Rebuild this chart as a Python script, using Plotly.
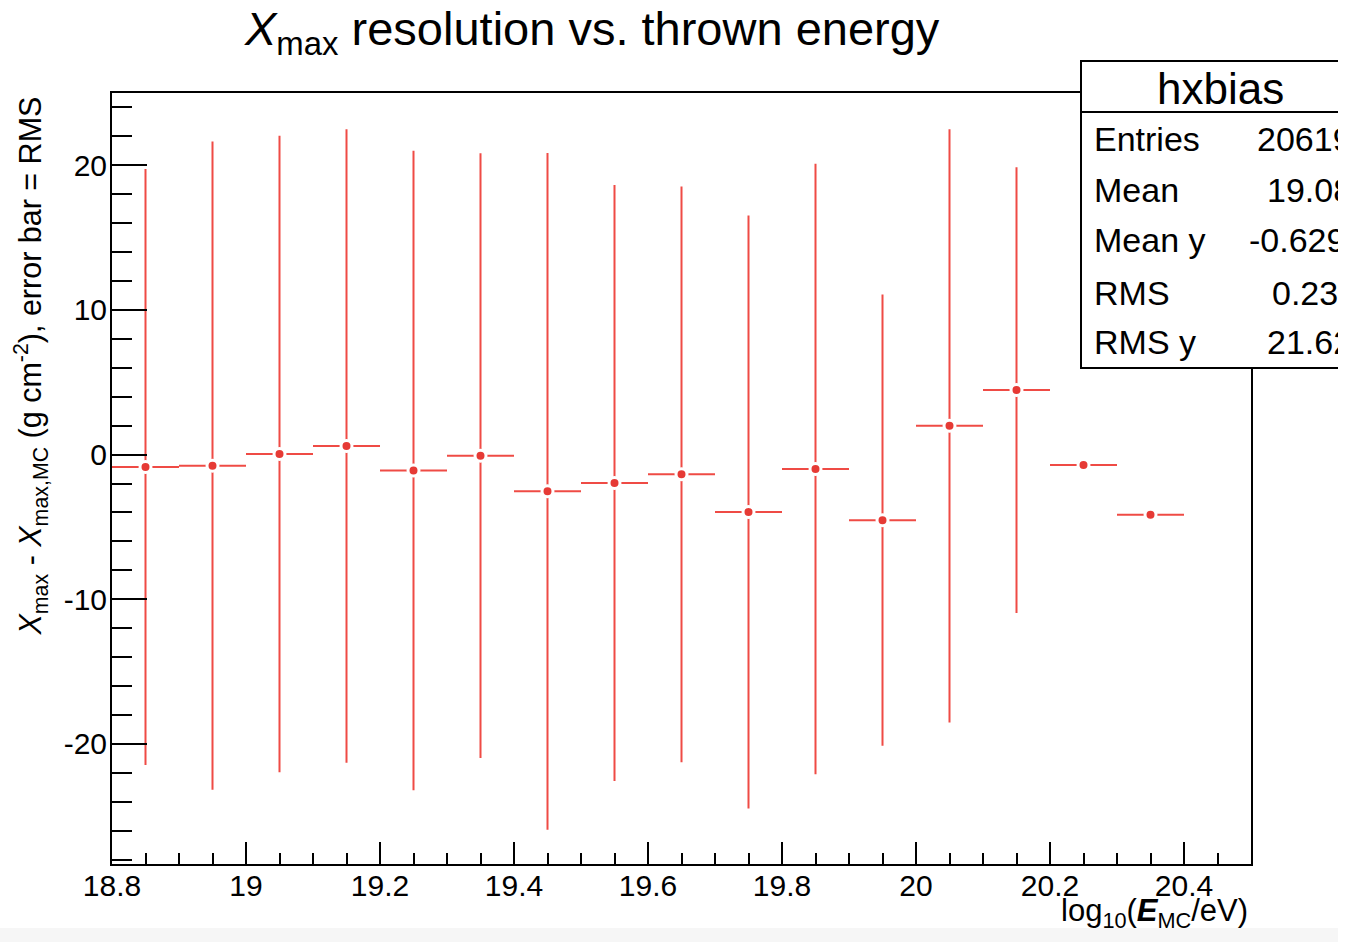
import plotly.graph_objects as go

# Bin centres in log10(E_MC/eV) and the per-bin Xmax bias with its RMS spread
log_energy = [18.85, 18.95, 19.05, 19.15, 19.25, 19.35, 19.45, 19.55,
              19.65, 19.75, 19.85, 19.95, 20.05, 20.15, 20.25, 20.35]
xmax_bias = [-0.85, -0.76, 0.05, 0.6, -1.1, -0.07, -2.54, -1.96,
             -1.36, -3.97, -0.99, -4.53, 1.99, 4.46, -0.72, -4.16]
xmax_rms = [20.6, 22.4, 22.0, 21.9, 22.1, 20.9, 23.4, 20.6,
            19.9, 20.5, 21.1, 15.6, 20.5, 15.4, 0.0, 0.0]
bin_half_width = 0.05

x_tick_vals = [18.8, 19.0, 19.2, 19.4, 19.6, 19.8, 20.0, 20.2, 20.4]
x_tick_text = ["18.8", "19", "19.2", "19.4", "19.6", "19.8", "20", "20.2", "20.4"]
y_tick_vals = [-20, -10, 0, 10, 20]
y_tick_text = ["-20", "-10", "0", "10", "20"]

stat_names = ["Entries", "Mean", "Mean y", "RMS", "RMS y"]
stat_values = ["20619", "19.08", "-0.629", "0.23", "21.62"]

# Canvas geometry (pixels)
W, H = 1338, 942
L, R, T, B = 112, 1251, 93, 864
FONT = "Liberation Sans, Arial, Helvetica, sans-serif"
RED_LINE = "#ef4b45"
RED_DOT = "#e63a35"


def px(x):
    return (x - L) / (R - L)


def py(y):
    return (B - y) / (B - T)


fig = go.Figure()
fig.add_trace(go.Scatter(
    x=log_energy,
    y=xmax_bias,
    mode="markers",
    marker=dict(color=RED_DOT, size=11, line=dict(color="white", width=3)),
    error_y=dict(type="data", array=xmax_rms, visible=True,
                 color=RED_LINE, thickness=2, width=0),
    error_x=dict(type="constant", value=bin_half_width, visible=True,
                 color=RED_LINE, thickness=2, width=0),
    showlegend=False,
    cliponaxis=False,
))

axis_common = dict(
    showline=True, linecolor="black", linewidth=2, mirror=True,
    showgrid=False, zeroline=False, ticks="inside", tickcolor="black",
    tickwidth=1.8, automargin=False,
    tickfont=dict(family=FONT, size=30, color="black"),
)

fig.update_xaxes(
    range=[18.8, 20.5],
    tickmode="array", tickvals=x_tick_vals, ticktext=x_tick_text,
    ticklen=22, ticklabelstandoff=-6,
    minor=dict(ticks="inside", ticklen=11, dtick=0.05, tick0=18.8,
               tickcolor="black", tickwidth=1.8),
    **axis_common,
)
fig.update_yaxes(
    range=[-28.3, 25.0],
    tickmode="array", tickvals=y_tick_vals, ticktext=y_tick_text,
    ticklen=35, ticklabelstandoff=-3,
    minor=dict(ticks="inside", ticklen=20, dtick=2, tick0=0,
               tickcolor="black", tickwidth=1.8),
    **axis_common,
)

annotations = [
    dict(text="<i>X</i><sub>max</sub> resolution vs. thrown energy",
         x=px(592), y=py(32), xanchor="center", yanchor="middle",
         font=dict(family=FONT, size=47, color="black")),
    dict(text="<i>X</i><sub>max</sub> - <i>X</i><sub>max,MC</sub> "
              "(g cm<sup>-2</sup>), error bar = RMS",
         x=px(31), y=py(95), xanchor="center", yanchor="top", textangle=-90,
         font=dict(family=FONT, size=30.5, color="black")),
    dict(text="log<sub>10</sub>(<b><i>E</i></b><sub>MC</sub>/eV)",
         x=px(1250), y=py(913), xanchor="right", yanchor="middle",
         font=dict(family=FONT, size=31, color="black")),
    dict(text="hxbias", x=px(1220), y=py(88), xanchor="center", yanchor="middle",
         font=dict(family=FONT, size=44, color="black")),
]

# Statistics box rows
row_y = [139, 190, 240, 293, 342]
value_x = [1255, 1265, 1247, 1270, 1265]
for name, val, yy, vx in zip(stat_names, stat_values, row_y, value_x):
    annotations.append(dict(text=name, x=px(1092), y=py(yy), xanchor="left",
                            yanchor="middle",
                            font=dict(family=FONT, size=34, color="black")))
    annotations.append(dict(text=val, x=px(vx), y=py(yy), xanchor="left",
                            yanchor="middle",
                            font=dict(family=FONT, size=34, color="black")))

for a in annotations:
    a.update(xref="paper", yref="paper", showarrow=False)

shapes = [
    # statistics box
    dict(type="rect", xref="paper", yref="paper", layer="above",
         x0=px(1081), x1=px(1420), y0=py(368), y1=py(61),
         fillcolor="white", line=dict(color="black", width=2)),
    dict(type="line", xref="paper", yref="paper", layer="above",
         x0=px(1081), x1=px(1420), y0=py(112), y1=py(112),
         line=dict(color="black", width=2)),
    # light strip along the bottom of the canvas
    dict(type="rect", xref="paper", yref="paper", layer="below",
         x0=px(-10), x1=px(1400), y0=py(950), y1=py(928),
         fillcolor="#f6f6f6", line=dict(width=0)),
]

fig.update_layout(
    width=W, height=H,
    margin=dict(l=L, r=W - R, t=T, b=H - B, pad=0),
    paper_bgcolor="white", plot_bgcolor="white",
    font=dict(family=FONT, color="black"),
    annotations=annotations,
    shapes=shapes,
)

fig.write_html("out.html")
